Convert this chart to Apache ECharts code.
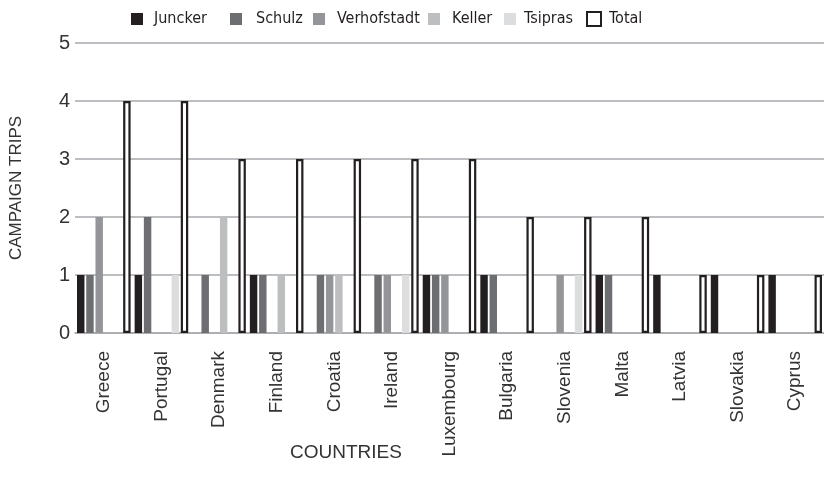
<!DOCTYPE html>
<html>
<head>
<meta charset="utf-8">
<title>Campaign trips</title>
<script src="https://cdn.jsdelivr.net/npm/echarts@6/dist/echarts.min.js"></script>
<style>
  html, body { margin: 0; padding: 0; background: #fff; }
  #chart { width: 824px; height: 488px; }
</style>
</head>
<body>
<div id="chart"></div>
<script>
// 数据
const countries = ["Greece", "Portugal", "Denmark", "Finland", "Croatia", "Ireland", "Luxembourg", "Bulgaria", "Slovenia", "Malta", "Latvia", "Slovakia", "Cyprus"];
const juncker = [1, 1, 0, 1, 0, 0, 1, 1, 0, 1, 1, 1, 1];
const schulz = [1, 2, 1, 1, 1, 1, 1, 1, 0, 1, 0, 0, 0];
const verhofstadt = [2, 0, 0, 0, 1, 1, 1, 0, 1, 0, 0, 0, 0];
const keller = [0, 0, 2, 1, 1, 0, 0, 0, 0, 0, 0, 0, 0];
const tsipras = [0, 1, 0, 0, 0, 1, 0, 0, 1, 0, 0, 0, 0];
const total = [4, 4, 3, 3, 3, 3, 3, 2, 2, 2, 1, 1, 1];
const yTicks = [0, 1, 2, 3, 4, 5];

const narrow = "'Liberation Sans Narrow', 'DejaVu Sans Condensed', sans-serif";
const sans = "'Liberation Sans', Arial, sans-serif";

// 生成柱子配置
function bar(name, data, color, border) {
  return {
    name: name,
    type: "bar",
    data: data,
    barGap: "24%",
    barCategoryGap: "7%",
    itemStyle: {
      color: color,
      borderColor: border || color,
      borderWidth: border ? 2.2 : 0,
    },
  };
}

// 图例：每项单独定位
const legendPos = [
  ["Juncker", 126, 6],
  ["Schulz", 225, 9],
  ["Verhofstadt", 308, 7],
  ["Keller", 423, 7],
  ["Tsipras", 499, 3],
  ["Total", 581, 3],
];
const legends = legendPos.map(([name, left, pad]) => ({
  left: left,
  top: 6,
  icon: "rect",
  itemWidth: name === "Total" ? 14 : 12,
  itemHeight: name === "Total" ? 14 : 12,
  data: [name],
  textStyle: { fontFamily: narrow, fontSize: 16, color: "#231f20", padding: [0, 0, 0, pad] },
}));

const myChart = echarts.init(document.querySelector("#chart"));
const option = {
  animation: false,
  legend: legends,
  grid: {
    left: 71,
    top: 43,
    width: 755,
    height: 290,
  },
  xAxis: {
    type: "category",
    data: countries,
    axisTick: { show: false },
    axisLine: { lineStyle: { color: "#a7a9ac", width: 1.5 } },
    axisLabel: {
      rotate: 90,
      margin: 18,
      fontFamily: sans,
      fontSize: 19,
      color: "#333",
    },
  },
  yAxis: {
    type: "value",
    min: yTicks[0],
    max: yTicks[yTicks.length - 1],
    interval: 1,
    name: "CAMPAIGN TRIPS",
    nameLocation: "middle",
    nameGap: 50,
    nameTextStyle: { fontFamily: sans, fontSize: 17, color: "#333" },
    axisLine: { show: false },
    axisTick: { show: false },
    axisLabel: { fontFamily: sans, fontSize: 20, color: "#333", margin: 5 },
    splitLine: { lineStyle: { color: "#a7a9ac", width: 1.5 } },
  },
  graphic: [
    {
      type: "text",
      left: 290,
      top: 443,
      style: { text: "COUNTRIES", font: "19px " + sans, fill: "#333" },
    },
  ],
  series: [
    bar("Juncker", juncker, "#231f20"),
    bar("Schulz", schulz, "#6d6e71"),
    bar("Verhofstadt", verhofstadt, "#939598"),
    bar("Keller", keller, "#bcbec0"),
    bar("Tsipras", tsipras, "#dcddde"),
    bar("Total", total, "#ffffff", "#231f20"),
  ],
};
myChart.setOption(option);
</script>
</body>
</html>
